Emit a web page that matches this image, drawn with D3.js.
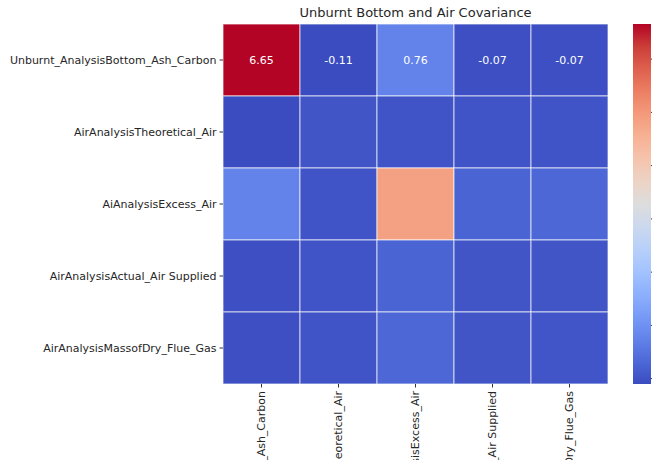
<!DOCTYPE html>
<html lang="en">
<head>
    <meta charset="UTF-8">
    <title>Unburnt Bottom and Air Covariance</title>
    <script src="https://cdnjs.cloudflare.com/ajax/libs/d3/7.8.5/d3.min.js"></script>
    <style>
        body { margin: 0; padding: 0; background: #fff; }
        svg { display: block; font-family: "DejaVu Sans", sans-serif; }
    </style>
</head>
<body>
    <div id="chart"></div>

    <script>
        // row / column names of the covariance matrix
        const rowLabels = [
            'Unburnt_AnalysisBottom_Ash_Carbon',
            'AirAnalysisTheoretical_Air',
            'AiAnalysisExcess_Air',
            'AirAnalysisActual_Air Supplied',
            'AirAnalysisMassofDry_Flue_Gas'
        ];
        const colLabels = rowLabels;

        // covariance values, one array per row
        const rowAsh = [6.65, -0.11, 0.76, -0.07, -0.07];
        const rowTheo = [-0.11, 0.02, 0.01, 0.01, 0.01];
        const rowExcess = [0.76, 0.01, 4.85, 0.25, 0.30];
        const rowActual = [-0.07, 0.01, 0.25, 0.02, 0.02];
        const rowMass = [-0.07, 0.01, 0.30, 0.02, 0.03];
        const matrix = [rowAsh, rowTheo, rowExcess, rowActual, rowMass];

        // only the first row got annotated in the original
        const annotatedRows = [0];
        const colorbarTicks = [0, 1, 2, 3, 4, 5, 6];

        // matplotlib coolwarm stops
        const coolwarm = ['#3b4cc0', '#4d68d7', '#6282ea', '#779af7', '#8db0fe', '#a3c2ff',
            '#b8d0f9', '#cbd8ee', '#dddddd', '#ecd3c5', '#f5c4ad', '#f7b194', '#f49a7b',
            '#ec7f63', '#de604d', '#cb3e38', '#b40426'];

        const FONT = '"DejaVu Sans", sans-serif';
        const W = 652, H = 460;
        const mLeft = 223, mRight = 608, mTop = 24, mBottom = 384;

        const svg = d3.select('#chart').append('svg')
            .attr('width', W)
            .attr('height', H)
            .attr('font-family', FONT);

        const flat = matrix.flat();
        const vmin = d3.min(flat), vmax = d3.max(flat);

        const color = d3.scaleSequential(d3.interpolateRgbBasis(coolwarm))
            .domain([vmin, vmax]);

        const x = d3.scaleBand().domain(d3.range(colLabels.length)).range([mLeft, mRight]);
        const y = d3.scaleBand().domain(d3.range(rowLabels.length)).range([mTop, mBottom]);

        const cells = [];
        matrix.forEach((row, i) => row.forEach((v, j) => cells.push({ i, j, v })));

        svg.append('g')
            .selectAll('rect')
            .data(cells)
            .join('rect')
            .attr('x', d => x(d.j))
            .attr('y', d => y(d.i))
            .attr('width', x.bandwidth())
            .attr('height', y.bandwidth())
            .attr('fill', d => color(d.v))
            .attr('stroke', 'rgba(255,255,255,0.7)')
            .attr('stroke-width', 1);

        svg.append('g')
            .selectAll('text')
            .data(cells.filter(d => annotatedRows.includes(d.i)))
            .join('text')
            .attr('x', d => x(d.j) + x.bandwidth() / 2)
            .attr('y', d => y(d.i) + y.bandwidth() / 2)
            .attr('dy', '0.35em')
            .attr('text-anchor', 'middle')
            .attr('fill', '#fff')
            .attr('font-size', 11)
            .text(d => d.v.toFixed(2));

        // axes (d3 sets its own font-family on axis groups, so reset it)
        const yAxis = svg.append('g')
            .attr('transform', `translate(${mLeft},0)`)
            .call(d3.axisLeft(y).tickFormat(i => rowLabels[i]).tickSize(3.5).tickPadding(3))
            .attr('font-family', FONT);
        yAxis.select('.domain').remove();
        yAxis.selectAll('text').attr('font-size', 11).attr('fill', '#262626');
        yAxis.selectAll('line').attr('stroke', '#333');

        const xAxis = svg.append('g')
            .attr('transform', `translate(0,${mBottom})`)
            .call(d3.axisBottom(x).tickFormat(i => colLabels[i]).tickSize(3.5).tickPadding(3))
            .attr('font-family', FONT);
        xAxis.select('.domain').remove();
        xAxis.selectAll('line').attr('stroke', '#333');
        xAxis.selectAll('text')
            .attr('font-size', 11)
            .attr('fill', '#262626')
            .attr('transform', 'rotate(-90)')
            .attr('text-anchor', 'end')
            .attr('x', -7)
            .attr('y', 0)
            .attr('dy', '0.35em');

        // title
        svg.append('text')
            .attr('x', (mLeft + mRight) / 2)
            .attr('y', 17)
            .attr('text-anchor', 'middle')
            .attr('font-size', 13)
            .attr('fill', '#262626')
            .text('Unburnt Bottom and Air Covariance');

        // colorbar
        const cbX = 633, cbW = 18;
        const defs = svg.append('defs');
        const grad = defs.append('linearGradient')
            .attr('id', 'cb')
            .attr('x1', 0).attr('y1', 1).attr('x2', 0).attr('y2', 0);
        coolwarm.forEach((c, k) => {
            grad.append('stop')
                .attr('offset', k / (coolwarm.length - 1))
                .attr('stop-color', c);
        });
        svg.append('rect')
            .attr('x', cbX)
            .attr('y', mTop)
            .attr('width', cbW)
            .attr('height', mBottom - mTop)
            .attr('fill', 'url(#cb)');

        const cbScale = d3.scaleLinear().domain([vmin, vmax]).range([mBottom, mTop]);
        const cbAxis = svg.append('g')
            .attr('transform', `translate(${cbX + cbW},0)`)
            .call(d3.axisRight(cbScale).tickValues(colorbarTicks).tickSize(3.5).tickPadding(3))
            .attr('font-family', FONT);
        cbAxis.select('.domain').remove();
        cbAxis.selectAll('text').attr('font-size', 11).attr('fill', '#262626');
        cbAxis.selectAll('line').attr('stroke', '#333');
    </script>
</body>
</html>
